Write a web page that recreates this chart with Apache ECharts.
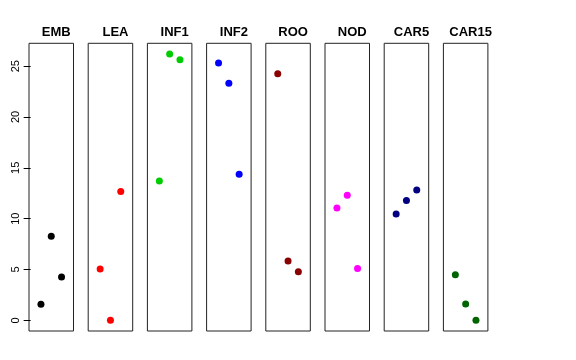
<!DOCTYPE html>
<html>
<head>
<meta charset="utf-8">
<script src="https://cdn.jsdelivr.net/npm/echarts@6/dist/echarts.min.js"></script>
<style>html,body{margin:0;padding:0;background:#fff}#c{width:576px;height:360px}</style>
</head>
<body>
<div id="c"></div>
<script>
const panels = ['EMB','LEA','INF1','INF2','ROO','NOD','CAR5','CAR15'];
const colors = ['#000000','#FF0000','#00CD00','#0000FF','#8B0000','#FF00FF','#000080','#006400'];
const xPos = [1, 2, 3];
const EMB = [1.57, 8.28, 4.25];
const LEA = [5.04, 0.0, 12.67];
const INF1 = [13.71, 26.19, 25.64];
const INF2 = [25.3, 23.31, 14.37];
const ROO = [24.26, 5.83, 4.78];
const NOD = [11.06, 12.31, 5.11];
const CAR5 = [10.47, 11.79, 12.83];
const CAR15 = [4.48, 1.6, 0.0];
const yTicks = [0, 5, 10, 15, 20, 25];
const values = [EMB, LEA, INF1, INF2, ROO, NOD, CAR5, CAR15];

const chart = echarts.init(document.getElementById('c'), null, {renderer: 'canvas'});
const grids = [], xAxes = [], yAxes = [], series = [], titles = [];
const left0 = 29, step = 59.2, pw = 44.5, ptop = 43.3, ph = 287.7;
panels.forEach((p, i) => {
  const l = left0 + i * step;
  grids.push({left: l, top: ptop, width: pw, height: ph, show: true, borderColor: '#222', borderWidth: 1, backgroundColor: 'transparent'});
  xAxes.push({gridIndex: i, type: 'value', min: -0.16, max: 4.16, show: false});
  yAxes.push({
    gridIndex: i, type: 'value', min: -1.05, max: 27.25, show: i === 0,
    splitLine: {show: false}, axisLine: {show: false},
    axisTick: {show: true, length: 7, lineStyle: {color: '#000'}, customValues: yTicks},
    axisLabel: {show: true, rotate: 90, margin: 8, fontSize: 11, color: '#000', fontFamily: 'Liberation Sans, Arial, sans-serif', customValues: yTicks}
  });
  series.push({
    type: 'scatter', xAxisIndex: i, yAxisIndex: i,
    data: xPos.map((x, j) => [x, values[i][j]]),
    symbolSize: 7, itemStyle: {color: colors[i], opacity: 1}, silent: true
  });
  titles.push({
    text: p, left: l + pw / 2, top: 21, textAlign: 'center',
    textStyle: {fontSize: 13, fontWeight: 'bold', color: '#000', fontFamily: 'Liberation Sans, Arial, sans-serif'}
  });
});
chart.setOption({
  animation: false,
  title: titles,
  grid: grids,
  xAxis: xAxes,
  yAxis: yAxes,
  series: series
});
</script>
</body>
</html>
